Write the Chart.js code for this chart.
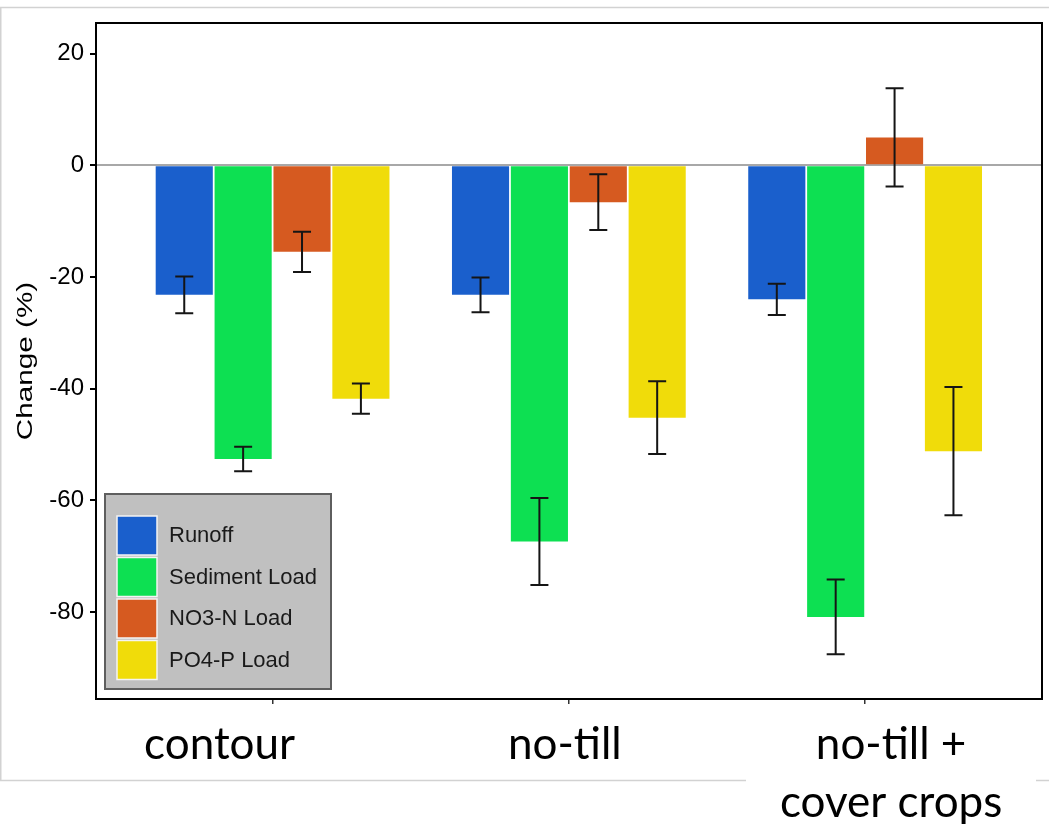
<!DOCTYPE html>
<html>
<head>
<meta charset="utf-8">
<script src="https://cdn.jsdelivr.net/npm/chart.js@4.4.1/dist/chart.umd.min.js"></script>
<style>
  html, body { margin: 0; padding: 0; background: #fff; }
  #wrap { position: relative; width: 1049px; height: 824px; }
</style>
</head>
<body>
<div id="wrap"><canvas id="chart" width="1049" height="824"></canvas></div>
<script>
// categories and series
const practices = ['contour', 'no-till', 'no-till +\ncover crops'];
const seriesNames = ['Runoff', 'Sediment Load', 'NO3-N Load', 'PO4-P Load'];
const runoff = [-23.2, -23.2, -24.0];
const sediment = [-52.6, -67.4, -80.9];
const nitrate = [-15.5, -6.6, 5.0];
const phosphate = [-41.8, -45.2, -51.2];
const runoffErr = [3.3, 3.1, 2.8];
const sedimentErr = [2.2, 7.8, 6.7];
const nitrateErr = [3.6, 5.0, 8.8];
const phosphateErr = [2.7, 6.5, 11.5];
const yTicks = [-80, -60, -40, -20, 0, 20];

const colors = ['#1a5fcc', '#0de052', '#d65a20', '#f0dc0a'];
const values = [runoff, sediment, nitrate, phosphate];
const errors = [runoffErr, sedimentErr, nitrateErr, phosphateErr];

const AXIS_FONT = 'Liberation Sans, Arial, sans-serif';

// background, outer frame of the figure
const framePlugin = {
    id: 'frame',
    beforeDraw(chart) {
        const c = chart.ctx;
        c.save();
        c.fillStyle = '#fff';
        c.fillRect(0, 0, chart.width, chart.height);
        c.strokeStyle = '#d2d2d2';
        c.lineWidth = 1.5;
        c.beginPath();
        c.moveTo(0, 7.5); c.lineTo(chart.width, 7.5);
        c.moveTo(0.75, 7.5); c.lineTo(0.75, 780.5);
        c.moveTo(0, 780.5); c.lineTo(chart.width, 780.5);
        c.stroke();
        // white box behind the second label line
        c.fillStyle = '#fff';
        c.fillRect(746, 772, 290, 52);
        c.restore();
    },
    afterDraw(chart) {
        const c = chart.ctx;
        const a = chart.chartArea;
        c.save();
        c.strokeStyle = '#000';
        c.lineWidth = 2;
        c.strokeRect(a.left, a.top, a.right - a.left, a.bottom - a.top);

        // y title (stretched along its length like in the figure)
        c.fillStyle = '#000';
        c.font = '22px ' + AXIS_FONT;
        c.translate(32, (a.top + a.bottom) / 2);
        c.rotate(-Math.PI / 2);
        c.scale(1.35, 1);
        c.textAlign = 'center';
        c.textBaseline = 'alphabetic';
        c.fillText('Change (%)', 0, 0);
        c.restore();

        // category labels (placed under the groups, slightly shifted as in the figure)
        const shift = [-53, -4, 26];
        c.save();
        c.fillStyle = '#000';
        c.font = '44px Lato, sans-serif';
        c.textAlign = 'center';
        c.textBaseline = 'alphabetic';
        practices.forEach((p, i) => {
            const x = chart.scales.x.getPixelForValue(i) + shift[i];
            p.split('\n').forEach((line, j) => c.fillText(line, x, 759 + j * 58));
        });
        c.restore();
    }
};

// error bars
const errorBarPlugin = {
    id: 'errorBars',
    afterDatasetsDraw(chart) {
        const c = chart.ctx;
        const y = chart.scales.y;
        c.save();
        c.strokeStyle = '#151515';
        c.lineWidth = 2;
        chart.data.datasets.forEach((ds, d) => {
            chart.getDatasetMeta(d).data.forEach((bar, i) => {
                const v = values[d][i], e = errors[d][i];
                const top = y.getPixelForValue(v + e);
                const bot = y.getPixelForValue(v - e);
                c.beginPath();
                c.moveTo(bar.x, top); c.lineTo(bar.x, bot);
                c.moveTo(bar.x - 9, top); c.lineTo(bar.x + 9, top);
                c.moveTo(bar.x - 9, bot); c.lineTo(bar.x + 9, bot);
                c.stroke();
            });
        });
        c.restore();
    }
};

// legend box inside the plot, bottom left
const legendPlugin = {
    id: 'boxLegend',
    afterDraw(chart) {
        const c = chart.ctx;
        const a = chart.chartArea;
        const bx = a.left + 9, by = 494, bw = 226, bh = 195;
        c.save();
        c.fillStyle = '#c0c0c0';
        c.fillRect(bx, by, bw, bh);
        c.strokeStyle = '#5e5e5e';
        c.lineWidth = 2;
        c.strokeRect(bx, by, bw, bh);
        c.font = '22px ' + AXIS_FONT;
        c.textBaseline = 'middle';
        chart.data.datasets.forEach((ds, i) => {
            const sy = by + 22 + i * 41.5;
            c.fillStyle = ds.backgroundColor;
            c.fillRect(bx + 12, sy, 40, 39);
            c.strokeStyle = '#f4f4f4';
            c.lineWidth = 1.5;
            c.strokeRect(bx + 12, sy, 40, 39);
            c.fillStyle = '#1a1a1a';
            c.fillText(ds.label, bx + 64, sy + 20);
        });
        c.restore();
    }
};

new Chart(document.getElementById('chart'), {
    type: 'bar',
    data: {
        datasets: seriesNames.map((name, d) => ({
            label: name,
            data: values[d].map((v, i) => ({ x: i, y: v })),
            backgroundColor: colors[d],
            borderWidth: 0,
            categoryPercentage: 0.795,
            barPercentage: 0.97
        }))
    },
    options: {
        responsive: false,
        animation: false,
        devicePixelRatio: 1,
        layout: { padding: { left: 0, right: 7, top: 23, bottom: 0 } },
        plugins: {
            legend: { display: false },
            tooltip: { enabled: false }
        },
        scales: {
            x: {
                type: 'linear',
                min: -0.596,
                max: 2.597,
                offset: false,
                afterBuildTicks: scale => { scale.ticks = practices.map((_, i) => ({ value: i })); },
                afterFit: scale => { scale.height = 125; },
                ticks: { display: false },
                grid: { offset: false, drawOnChartArea: false, drawTicks: true, tickLength: 5, tickColor: '#333', lineWidth: 1.5 },
                border: { display: false }
            },
            y: {
                min: -95.6,
                max: 25.5,
                afterBuildTicks: scale => { scale.ticks = yTicks.map(v => ({ value: v })); },
                afterFit: scale => { scale.width = 96; },
                ticks: {
                    color: '#000',
                    padding: 6,
                    font: { family: AXIS_FONT, size: 24 }
                },
                grid: {
                    color: ctx => (ctx.tick && ctx.tick.value === 0 ? '#a8a8a8' : 'rgba(0,0,0,0)'),
                    lineWidth: 2,
                    tickColor: '#000',
                    tickLength: 6
                },
                border: { display: false }
            }
        }
    },
    plugins: [framePlugin, errorBarPlugin, legendPlugin]
});
</script>
</body>
</html>
